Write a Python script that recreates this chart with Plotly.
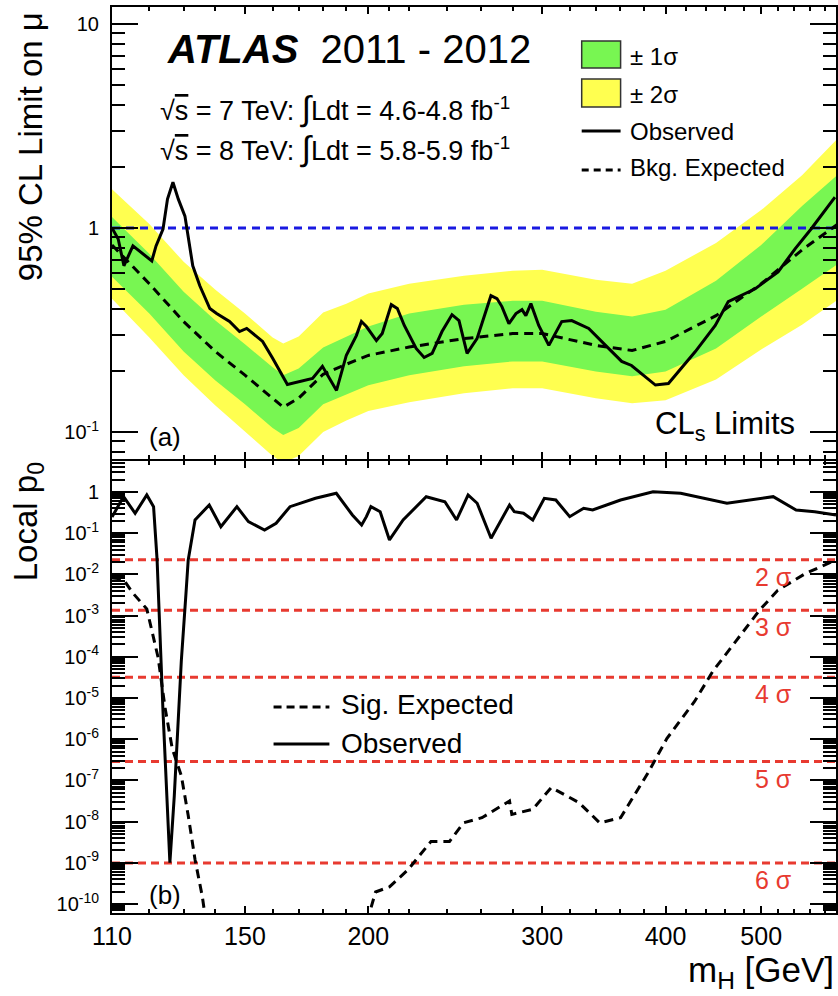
import numpy as np
import plotly.graph_objects as go

# ---------------- data ----------------
# (a) CLs limits: expected band grid
mass_band = [110, 120, 130, 140, 150, 160, 164, 170, 180, 190, 200, 220, 250, 280, 300,
             340, 370, 400, 450, 500, 550, 600]
exp_bkg = [0.826, 0.533, 0.348, 0.248, 0.190, 0.1455, 0.1324, 0.1465, 0.192, 0.215, 0.2375,
           0.261, 0.287, 0.304, 0.304, 0.266, 0.251, 0.278, 0.372, 0.533, 0.781, 1.058]
band_p2 = [1.550, 1.046, 0.683, 0.498, 0.381, 0.291, 0.272, 0.294, 0.385, 0.426, 0.477,
           0.533, 0.583, 0.617, 0.624, 0.558, 0.533, 0.617, 0.845, 1.224, 1.813, 2.800]
band_p1 = [1.131, 0.747, 0.487, 0.352, 0.269, 0.2075, 0.190, 0.205, 0.260, 0.294, 0.329,
           0.381, 0.421, 0.440, 0.440, 0.389, 0.368, 0.398, 0.551, 0.826, 1.280, 1.855]
band_m1 = [0.577, 0.381, 0.248, 0.179, 0.137, 0.1046, 0.0967, 0.1046, 0.137, 0.153, 0.1695,
           0.190, 0.210, 0.222, 0.222, 0.198, 0.1875, 0.198, 0.257, 0.368, 0.504, 0.675]
band_m2 = [0.4505, 0.291, 0.190, 0.135, 0.101, 0.0764, 0.0706, 0.0764, 0.100, 0.114, 0.127,
           0.140, 0.155, 0.164, 0.164, 0.1465, 0.1385, 0.143, 0.181, 0.254, 0.336, 0.4505]

# (a) observed limit
obs_lim_mass = [110, 111.6, 113.1, 115.5, 120.7, 121.9, 123.9, 125.2, 126.8, 128.4, 130.4, 132.8,
                135.0, 138.2, 140.4, 144.7, 148.1, 150.6, 156.3, 160.0, 165.6, 170.3, 175.6,
                179.7, 185.7, 190.0, 194.5, 196.8, 199.1, 203.8, 206.6, 211.0, 214.0, 217.5,
                223.6, 227.8, 232.1, 237.5, 243.1, 247.1, 251.8, 257.7, 266.2, 270.0, 273.1,
                277.6, 282.2, 286.2, 288.8, 292.2, 297.6, 304.7, 314.0, 321.4, 334.4, 347.8,
                361.1, 369.5, 390.7, 402.7, 428.8, 449.2, 463.0, 493.1, 520.1, 541.1, 561.7, 593.9]
obs_lim = [1.0, 0.884, 0.653, 0.817, 0.690, 0.817, 0.989, 1.385, 1.677, 1.385, 1.144, 0.653,
           0.521, 0.403, 0.381, 0.348, 0.311, 0.322, 0.278, 0.230, 0.171, 0.177, 0.183,
           0.210, 0.160, 0.238, 0.297, 0.348, 0.329, 0.281, 0.304, 0.421, 0.403, 0.333,
           0.257, 0.232, 0.243, 0.311, 0.376, 0.352, 0.243, 0.287, 0.466, 0.451, 0.412,
           0.340, 0.381, 0.398, 0.372, 0.426, 0.333, 0.266, 0.348, 0.352, 0.322, 0.266,
           0.222, 0.212, 0.170, 0.173, 0.248, 0.333, 0.436, 0.504, 0.610, 0.790, 0.989, 1.416]

# (b) local p0, observed
obs_p0_mass = [110, 113.0, 116.1, 119.3, 121.2, 122.2, 123.9, 125.9, 127.2, 129.3, 130.7, 131.4,
               133.5, 138.0, 141.8, 147.2, 151.2, 157.0, 161.3, 166.6, 176.8, 185.6, 192.7,
               196.9, 199.1, 201.2, 205.6, 210.1, 216.9, 228.9, 239.1, 245.7, 252.4, 257.8,
               266.3, 273.6, 278.0, 281.1, 287.2, 293.5, 301.5, 309.7, 319.9, 330.5, 337.5,
               360.2, 388.5, 414.4, 461.6, 514.2, 542.4, 566.5, 595.3]
obs_p0 = [0.247, 0.769, 0.304, 0.846, 0.44, 0.0224, 4.6e-6, 1.0e-9, 4.2e-8, 7.9e-5, 3.3e-3, 0.0224,
          0.209, 0.4835, 0.1438, 0.4397, 0.190, 0.1196, 0.1739, 0.4397, 0.7035, 0.930, 0.2765,
          0.158, 0.2515, 0.4397, 0.3324, 0.0684, 0.209, 0.769, 0.5815, 0.209, 0.846, 0.532,
          0.0752, 0.2515, 0.4835, 0.3324, 0.304, 0.209, 0.7035, 0.6395, 0.2515, 0.402, 0.3657,
          0.6395, 1.017, 0.930, 0.532, 0.769, 0.3657, 0.3324, 0.2765]

# (b) local p0, signal expected
sig_exp_mass = [110, 112.9, 115.5, 119.3, 122.5, 124.5, 126.6, 127.9, 129.3, 131.4, 133.5, 135.8,
                136.5, 138.0, 198.0, 200.2, 203.4, 210.1, 219.3, 231.5, 241.7, 249.7, 260.7,
                278.0, 279.5, 293.5, 306.4, 326.9, 343.1, 360.2, 384.3, 401.2, 428.0, 446.8,
                471.6, 497.7, 519.6, 554.4, 595.3]
sig_exp = [8.2e-3, 7.7e-3, 3.5e-3, 1.45e-3, 9.5e-5, 5.7e-6, 5.9e-7, 2.8e-7, 1.3e-7, 1.4e-8, 1.2e-9,
           1.5e-10, 5.7e-11, 1e-11, 1e-11, 5.2e-11, 1.95e-10, 2.6e-10, 6.7e-10, 3.3e-9, 3.3e-9,
           9.3e-9, 1.24e-8, 3.16e-8, 1.49e-8, 1.98e-8, 6.7e-8, 2.88e-8, 9.3e-9, 1.24e-8, 1.57e-7,
           1.03e-6, 8.2e-6, 4.5e-5, 2.43e-4, 1.32e-3, 4.1e-3, 1.05e-2, 2.24e-2]

# significance levels (one-sided p0)
sigma_labels = ["2 σ", "3 σ", "4 σ", "5 σ", "6 σ"]
sigma_p0 = [2.275e-2, 1.35e-3, 3.167e-5, 2.867e-7, 9.866e-10]
mu_ref = 1.0

# axis ticks
x_major = [110, 150, 200, 300, 400, 500]
x_minor = [120, 130, 140, 160, 170, 180, 190, 210, 220, 240, 260, 280, 320, 340, 360, 380,
           420, 440, 460, 480, 520, 540, 560, 580]
y1_major = [0.1, 1, 10]
y1_text = ["10<sup>-1</sup>", "1", "10"]
y2_major = [10.0 ** e for e in range(-10, 1)]
y2_text = ["10<sup>%d</sup>" % e for e in range(-10, 0)] + ["1"]

# ---------------- styling ----------------
FONT = "Liberation Sans, Arial, Helvetica, sans-serif"
GREEN = "rgb(120,246,82)"
YELLOW = "rgb(255,255,80)"
RED = "rgb(232,58,48)"
BLUE = "rgb(25,25,225)"
DASH = "9px,6px"

X_LO, X_HI = np.log10(110), np.log10(595.3)

fig = go.Figure()

def band(lo, hi, color):
    return go.Scatter(x=mass_band + mass_band[::-1], y=hi + lo[::-1], fill="toself",
                      fillcolor=color, line=dict(width=0), mode="lines",
                      hoverinfo="skip", showlegend=False, xaxis="x", yaxis="y")

fig.add_trace(band(band_m2, band_p2, YELLOW))
fig.add_trace(band(band_m1, band_p1, GREEN))
fig.add_trace(go.Scatter(x=[110, 600], y=[mu_ref, mu_ref], mode="lines",
                         line=dict(color=BLUE, width=3, dash="8px,6px"),
                         showlegend=False, xaxis="x", yaxis="y"))
fig.add_trace(go.Scatter(x=mass_band, y=exp_bkg, mode="lines",
                         line=dict(color="black", width=3, dash=DASH),
                         showlegend=False, xaxis="x", yaxis="y"))
fig.add_trace(go.Scatter(x=obs_lim_mass, y=obs_lim, mode="lines",
                         line=dict(color="black", width=3),
                         showlegend=False, xaxis="x", yaxis="y"))

for p in sigma_p0:
    fig.add_trace(go.Scatter(x=[110, 600], y=[p, p], mode="lines",
                             line=dict(color=RED, width=3, dash="8px,5px"),
                             showlegend=False, xaxis="x2", yaxis="y2"))
fig.add_trace(go.Scatter(x=sig_exp_mass, y=sig_exp, mode="lines",
                         line=dict(color="black", width=3, dash=DASH),
                         showlegend=False, xaxis="x2", yaxis="y2"))
fig.add_trace(go.Scatter(x=obs_p0_mass, y=obs_p0, mode="lines",
                         line=dict(color="black", width=3),
                         showlegend=False, xaxis="x2", yaxis="y2"))

def minor_log(lo_exp, hi_exp):
    return [m * 10.0 ** e for e in range(lo_exp, hi_exp) for m in range(2, 10)]

common_x = dict(type="log", range=[X_LO, X_HI], showgrid=False, zeroline=False,
                showline=True, linecolor="black", linewidth=2, mirror="allticks",
                ticks="inside", ticklen=7, tickwidth=1.5, tickcolor="black",
                tickmode="array", tickvals=x_major,
                ticktext=[str(v) for v in x_major],
                minor=dict(ticks="inside", ticklen=4, tickwidth=1.5, tickcolor="black",
                           tickmode="array", tickvals=x_minor, showgrid=False))
common_y = dict(type="log", showgrid=False, zeroline=False, showline=True,
                linecolor="black", linewidth=2, mirror="allticks",
                ticks="inside", ticklen=26, tickwidth=1.5, tickcolor="black",
                tickmode="array", tickfont=dict(family=FONT, size=20, color="black"),
                ticklabelstandoff=7)

fig.update_layout(
    width=838, height=996, margin=dict(l=112, r=0, t=7, b=83),
    paper_bgcolor="white", plot_bgcolor="white", showlegend=False,
    font=dict(family=FONT, color="black"),
    xaxis=dict(**common_x, domain=[0, 1], anchor="y", showticklabels=False),
    xaxis2=dict(**common_x, domain=[0, 1], anchor="y2", matches="x",
                showticklabels=True, ticklabelstandoff=0,
                tickfont=dict(family=FONT, size=25, color="black")),
    yaxis=dict(**common_y, domain=[0.5011, 1], anchor="x",
               range=[-1.132, 1.083], tickvals=y1_major, ticktext=y1_text,
               minor=dict(ticks="inside", ticklen=13, tickwidth=1.5, tickcolor="black",
                          tickmode="array", tickvals=minor_log(-2, 2), showgrid=False)),
    yaxis2=dict(**common_y, domain=[0, 0.4989], anchor="x2",
                range=[-10.22, 0.752], tickvals=y2_major, ticktext=y2_text,
                minor=dict(ticks="inside", ticklen=13, tickwidth=1.5, tickcolor="black",
                           tickmode="array", tickvals=minor_log(-11, 1), showgrid=False)),
)

def px(xp):
    return (xp - 112) / 726.0

def py(yp):
    return (913 - yp) / 906.0

ann = []
def text(t, x, y, size, xanchor="left", color="black", angle=0, **kw):
    ann.append(dict(text=t, x=x, y=y, xref="paper", yref="paper", xanchor=xanchor,
                    yanchor="middle", showarrow=False, textangle=angle,
                    font=dict(family=FONT, size=size, color=color), **kw))

text("<b><i>ATLAS</i></b>\u00a0\u00a02011 - 2012", px(165), py(49), 40)
SQ = "√<span style='text-decoration:overline'>s</span>"
INT = "<span style='font-size:34px'>∫</span>"
text(SQ + " = 7 TeV: " + INT + "Ldt = 4.6-4.8 fb<sup>-1</sup>", px(158), py(108), 27)
text(SQ + " = 8 TeV: " + INT + "Ldt = 5.8-5.9 fb<sup>-1</sup>", px(158), py(148), 27)

# legend (a)
shapes = []
shapes.append(dict(type="rect", xref="paper", yref="paper", x0=px(583), x1=px(622),
                   y0=py(68), y1=py(41), fillcolor=GREEN, line=dict(color="#333", width=1.5)))
shapes.append(dict(type="rect", xref="paper", yref="paper", x0=px(583), x1=px(622),
                   y0=py(107), y1=py(79), fillcolor=YELLOW, line=dict(color="#333", width=1.5)))
shapes.append(dict(type="line", xref="paper", yref="paper", x0=px(583), x1=px(622),
                   y0=py(131), y1=py(131), line=dict(color="black", width=3)))
shapes.append(dict(type="line", xref="paper", yref="paper", x0=px(583), x1=px(622),
                   y0=py(170), y1=py(170), line=dict(color="black", width=3, dash="7px,5px")))
text("± 1σ", px(629), py(57), 24)
text("± 2σ", px(629), py(94), 24)
text("Observed", px(629), py(131), 24)
text("Bkg. Expected", px(629), py(167), 24)

# legend (b)
shapes.append(dict(type="line", xref="paper", yref="paper", x0=px(274), x1=px(330),
                   y0=py(707), y1=py(707), line=dict(color="black", width=3, dash="8px,5px")))
shapes.append(dict(type="line", xref="paper", yref="paper", x0=px(274), x1=px(330),
                   y0=py(744), y1=py(744), line=dict(color="black", width=3)))
text("Sig. Expected", px(340), py(704), 28)
text("Observed", px(340), py(743), 28)

text("(a)", px(147), py(437), 26)
text("(b)", px(147), py(895), 26)
text("CL<sub>s</sub> Limits", px(799), py(426), 31, xanchor="right")

for lab, p in zip(sigma_labels, sigma_p0):
    ann.append(dict(text=lab, x=px(775), y=np.log10(p), xref="paper", yref="y2",
                    xanchor="center", yanchor="middle", yshift=-17, showarrow=False,
                    font=dict(family=FONT, size=25, color=RED)))

text("m<sub>H</sub> [GeV]", 1.0, py(972), 35, xanchor="right")
text("95% CL Limit on μ", px(30), py(147), 33, xanchor="center", angle=-90)
text("Local p<sub>0</sub>", px(28), py(522), 33, xanchor="center", angle=-90)

fig.update_layout(annotations=ann, shapes=shapes)

fig.write_html("out.html", include_plotlyjs=True, config={"displayModeBar": False})
